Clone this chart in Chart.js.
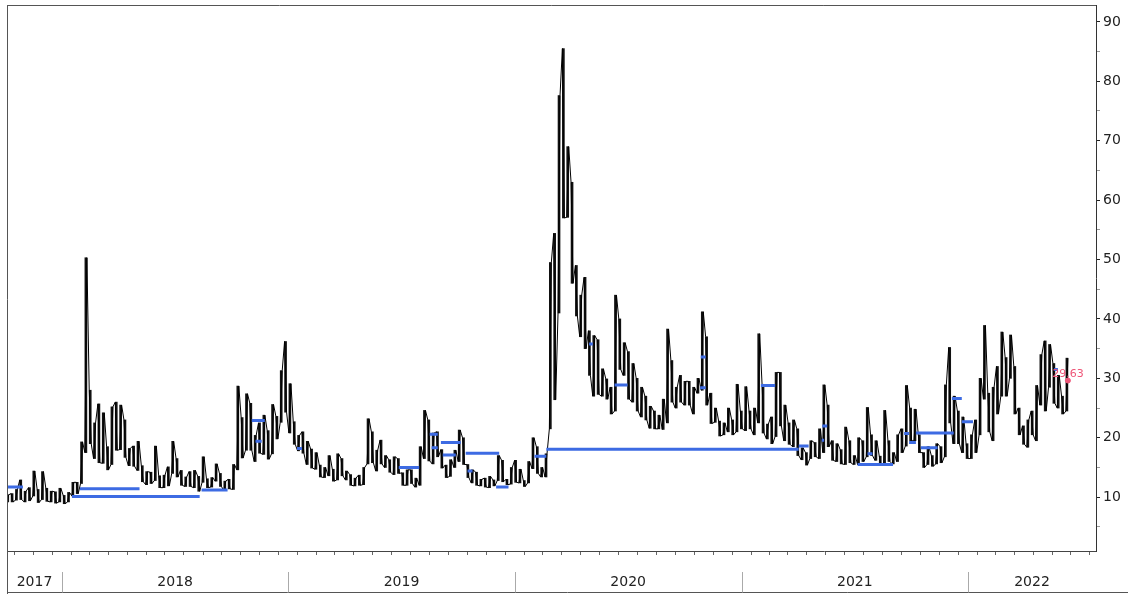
<!DOCTYPE html>
<html><head><meta charset="utf-8">
<script src="https://cdn.jsdelivr.net/npm/chart.js@4.4.1/dist/chart.umd.min.js"></script>
<style>html,body{margin:0;padding:0;background:#fff;}canvas{display:block;}</style>
</head><body>
<canvas id="c" width="1128" height="594"></canvas>
<script>
// ---- data ----
const firstWeek = '2017-10-05';           // one high/low pair per trading week
const weeklyHigh = [
  10.4,10.6,11.3,12.9,11.0,11.6,14.4,11.3,14.3,11.5,11.0,10.9,11.5,
  10.3,10.8,12.5,12.5,19.3,50.3,28.0,22.5,25.7,24.2,18.5,25.2,26.0,25.5,23.0,18.2,18.6,19.4,15.3,14.3,14.2,18.6,13.6,13.7,15.1,19.4,16.5,14.5,13.4,14.3,14.5,13.5,16.8,13.1,13.3,15.6,14.0,12.7,13.0,15.5,28.7,23.4,27.4,25.8,20.4,22.5,23.8,21.2,25.6,23.6,31.3,36.2,
  29.1,22.7,20.4,21.0,19.4,18.1,17.5,15.4,15.0,17.0,14.7,17.3,16.5,14.4,13.8,13.2,13.7,15.0,23.2,21.0,17.9,19.6,17.0,16.3,16.8,16.5,14.1,14.6,14.6,13.2,18.5,24.6,23.0,20.8,21.0,18.0,15.4,16.3,17.9,21.3,20.0,15.5,14.6,14.2,13.0,13.2,13.5,12.9,17.0,16.2,13.0,15.0,
  16.2,14.7,12.8,16.0,20.0,18.5,15.0,17.3,49.5,54.4,77.6,85.5,69.0,63.0,49.0,44.0,47.0,38.0,37.2,36.5,31.6,29.9,28.5,44.0,40.0,36.0,34.5,32.5,30.0,28.5,27.0,25.3,24.5,23.8,26.5,38.3,33.0,28.5,30.5,29.5,29.5,28.5,30.0,41.2,37.0,27.5,25.0,22.8,22.5,25.0,23.0,29.0,24.5,
  28.6,24.5,25.0,37.5,29.0,22.3,23.5,31.0,31.0,25.5,22.5,23.0,21.5,18.3,17.5,19.5,19.2,21.5,28.9,25.5,19.5,19.0,18.0,21.8,19.5,17.0,20.0,19.5,25.1,20.5,19.5,16.9,24.6,19.5,17.5,20.5,21.5,28.8,25.0,24.8,20.5,17.5,18.5,17.0,19.0,18.5,28.9,35.2,27.0,24.5,23.5,19.0,
  20.5,23.0,30.0,38.9,27.5,28.5,32.0,37.8,33.5,37.3,32.0,25.0,22.0,23.0,24.5,28.8,34.0,36.3,35.7,32.5,30.5,27.0,33.4
];
const weeklyLow = [
  9.2,9.2,9.5,9.6,9.2,9.4,10.2,9.1,9.6,9.3,9.2,9.0,9.2,
  8.9,9.2,10.2,10.6,12.3,17.5,19.0,16.5,15.8,15.7,14.6,15.5,17.9,18.0,16.7,15.3,15.2,14.5,12.6,12.1,12.3,12.8,11.6,11.6,11.9,14.0,13.4,12.0,11.8,11.8,11.6,11.0,12.5,11.6,11.7,12.7,11.8,11.1,11.4,11.3,14.6,16.6,17.9,17.9,16.0,17.4,17.2,16.4,17.3,19.8,22.6,24.3,
  20.8,18.9,17.8,17.4,15.5,14.9,14.7,13.4,13.3,13.6,12.7,12.9,13.6,12.9,12.0,11.9,12.0,12.1,15.6,15.8,14.4,15.6,15.0,14.2,13.8,14.0,12.0,12.0,12.3,11.7,12.0,16.5,16.1,15.6,16.8,14.9,13.3,13.5,15.0,16.0,15.5,13.3,12.4,12.0,11.9,11.7,11.6,11.9,12.8,12.6,12.1,12.2,
  12.5,12.4,11.8,12.4,14.8,14.0,13.4,13.4,21.5,26.4,41.0,57.0,57.1,46.0,40.5,37.0,35.0,30.5,27.0,27.3,27.0,26.5,24.0,24.5,31.5,30.5,26.5,26.0,24.5,23.5,23.0,21.6,21.5,21.5,21.4,22.5,26.0,25.0,26.0,25.5,25.5,24.0,27.5,28.0,25.5,22.4,22.6,20.3,20.5,21.0,20.5,21.0,21.5,
  21.2,21.5,20.5,22.5,20.8,19.8,19.0,20.2,22.0,19.5,18.9,18.5,17.0,16.3,15.4,16.5,16.8,16.5,17.5,18.5,16.2,16.0,15.6,15.5,15.8,15.5,15.5,16.0,16.8,17.0,16.2,15.3,15.6,16.0,15.6,16.0,17.5,18.6,19.5,19.5,17.5,15.0,15.5,15.2,15.6,15.8,16.8,22.5,19.0,19.0,17.5,16.5,
  16.5,17.5,20.5,26.5,21.0,19.5,24.0,27.0,27.0,30.0,24.0,20.5,18.9,18.4,20.5,19.5,25.5,24.5,28.5,25.8,25.0,24.0,24.5
];
// horizontal level segments (blue)
const levelStart = ['2017-10-05','2018-01-30','2018-01-17','2018-08-14','2018-11-03','2018-11-09','2019-01-15','2019-06-28','2019-08-17','2019-08-20','2019-09-04','2019-09-07','2019-10-14','2019-10-17','2019-12-02','2020-02-02','2020-02-21','2021-04-03','2020-04-30','2020-06-10','2020-10-27','2020-10-26','2021-02-01','2021-05-11','2021-05-10','2021-07-07','2021-07-23','2021-09-20','2021-09-28','2021-10-09','2021-10-17','2021-12-06','2021-12-22','2022-05-20'];
const levelEnd   = ['2017-10-30','2018-05-06','2018-08-11','2018-09-25','2018-11-24','2018-11-19','2019-01-23','2019-07-31','2019-08-30','2019-08-30','2019-10-06','2019-09-28','2019-12-07','2019-10-25','2019-12-22','2020-02-21','2021-04-03','2021-04-19','2020-05-06','2020-07-01','2020-11-04','2020-11-04','2021-02-24','2021-05-19','2021-05-14','2021-09-02','2021-07-31','2021-09-28','2021-10-09','2021-12-09','2021-11-13','2021-12-22','2022-01-09','2022-05-26'];
const levelValue = [11.7,11.4,10.1,11.2,22.9,19.4,18.2,15.0,20.6,18.3,19.2,17.1,17.4,14.4,11.7,16.9,18.05,18.6,35.8,28.9,33.6,28.4,28.8,22.0,19.6,15.5,17.3,20.7,19.2,20.8,18.3,26.6,22.7,31.5];
const lastValue = 29.63;
const yearLabels = ['2017','2018','2019','2020','2021','2022'];
const yearStarts = ['2018-01-01','2019-01-01','2020-01-01','2021-01-01','2022-01-01'];
const yTickValues = [5,10,15,20,25,30,35,40,45,50,55,60,65,70,75,80,85,90];
const xMinDate = '2017-10-04T07:00:00Z';
const xMaxDate = '2022-07-26T10:00:00Z';

// ---- build ----
const DAY = 86400000, WEEK = 7*DAY;
const t0 = Date.parse(firstWeek + 'T12:00:00Z');
const xMin = Date.parse(xMinDate), xMax = Date.parse(xMaxDate);
const barData = weeklyHigh.map((h,i)=>({x: t0 + i*WEEK, y: [weeklyLow[i], h]}));
const rangeData = [];
let prev = null;
weeklyHigh.forEach((h,i)=>{
  const l = weeklyLow[i], t = t0 + i*WEEK;
  let a = l, b = h;
  if (prev !== null && Math.abs(prev - h) < Math.abs(prev - l)) { a = h; b = l; }
  rangeData.push({x: t - 1.6*DAY, y: a}, {x: t + 1.6*DAY, y: b});
  prev = b;
});
const levelData = [];
levelValue.forEach((v,i)=>{
  const s = Date.parse(levelStart[i]+'T00:00:00Z'), e = Date.parse(levelEnd[i]+'T00:00:00Z');
  levelData.push({x:s,y:v},{x:e,y:v},{x:e,y:null});
});
const lastPoint = [{x: t0 + (weeklyHigh.length-1)*WEEK + 1.6*DAY, y: lastValue}];
const yearBounds = yearStarts.map(d=>Date.parse(d+'T00:00:00Z'));
const edges = [xMin, ...yearBounds, xMax];
const yearMids = yearLabels.map((_,i)=>(edges[i]+edges[i+1])/2);
const monthTicks = [];
for (let y=2017; y<=2022; y++) for (let m=0; m<12; m++) {
  const t = Date.UTC(y,m,1);
  if (t>xMin && t<xMax) monthTicks.push(t);
}

const FONT = '"DejaVu Sans", Verdana, sans-serif';
const noPad = s => { s.paddingTop = 0; s.paddingBottom = 0; s.paddingLeft = 0; s.paddingRight = 0; };

const framePlugin = {
  id:'frame',
  afterDraw(chart){
    const ctx = chart.ctx, a = chart.chartArea, xs = chart.scales.x;
    ctx.save();
    ctx.lineWidth = 1;
    ctx.strokeStyle = '#555';
    ctx.beginPath();
    ctx.moveTo(a.left+0.5, a.top+0.5); ctx.lineTo(a.right, a.top+0.5);
    ctx.moveTo(a.left+0.5, a.top); ctx.lineTo(a.left+0.5, chart.height);
    ctx.moveTo(a.left, chart.height-1.5); ctx.lineTo(chart.width, chart.height-1.5);
    ctx.stroke();
    ctx.strokeStyle = '#aaa';
    ctx.beginPath();
    yearBounds.forEach(t=>{
      const px = Math.round(xs.getPixelForValue(t))+0.5;
      ctx.moveTo(px, a.bottom+21); ctx.lineTo(px, chart.height-1.5);
    });
    ctx.stroke();
    const p = chart.getDatasetMeta(3).data[0];
    if (p) {
      ctx.font = '11px ' + FONT;
      ctx.fillStyle = '#ee5577';
      ctx.textAlign = 'center';
      ctx.textBaseline = 'middle';
      ctx.fillText(lastValue.toFixed(2), p.x, p.y - 6);
    }
    ctx.restore();
  }
};

new Chart(document.getElementById('c'), {
  type: 'bar',
  data: {
    datasets: [
      { type:'bar', label:'weekly range', data: barData, backgroundColor:'#111', borderWidth:0,
        barThickness:2, order:4 },
      { type:'line', label:'trace', data: rangeData, borderColor:'#000', borderWidth:1, pointRadius:0,
        tension:0, order:3 },
      { type:'line', label:'levels', data: levelData, borderColor:'#3d6be3', borderWidth:3,
        pointRadius:0, spanGaps:false, borderCapStyle:'butt', order:1 },
      { type:'line', label:'last', data: lastPoint, showLine:false, pointRadius:2.5,
        pointBackgroundColor:'#ee5577', pointBorderColor:'#ee5577', order:0 }
    ]
  },
  options: {
    responsive:false, animation:false, devicePixelRatio:1,
    layout:{ padding:{ left:7, top:3, right:0, bottom:0 } },
    plugins:{ legend:{display:false}, tooltip:{enabled:false} },
    scales:{
      x:{ type:'linear', position:'bottom', min:xMin, max:xMax, offset:false,
          afterBuildTicks: s=>{ s.ticks = monthTicks.map(v=>({value:v})); },
          afterFit: s=>{ s.height = 19; noPad(s); },
          ticks:{ display:false, autoSkip:false },
          grid:{ drawOnChartArea:false, drawTicks:true, tickLength:4, color:'#666' },
          border:{ display:true, color:'#444' } },
      x2:{ type:'linear', position:'bottom', min:xMin, max:xMax, offset:false,
          afterBuildTicks: s=>{ s.ticks = yearMids.map(v=>({value:v})); },
          afterFit: s=>{ s.height = 24; noPad(s); },
          ticks:{ autoSkip:false, maxRotation:0, padding:4, color:'#222', font:{family:FONT, size:14},
                  callback:(v,i)=>yearLabels[i] },
          grid:{ display:false, drawTicks:false }, border:{ display:false } },
      y:{ type:'linear', position:'right', min:0.94, max:92.84,
          afterBuildTicks: s=>{ s.ticks = yTickValues.map(v=>({value:v})); },
          afterFit: s=>{ s.width = 32; noPad(s); },
          ticks:{ autoSkip:false, padding:3, color:'#222', font:{family:FONT, size:14},
                  callback:v=> (v%10===0 ? String(v) : '') },
          grid:{ drawOnChartArea:false, drawTicks:true, tickLength:4,
                 color: c => (c.tick && c.tick.value%10===0) ? '#222' : '#999' },
          border:{ display:true, color:'#333' } }
    }
  },
  plugins:[framePlugin]
});
</script>
</body></html>
